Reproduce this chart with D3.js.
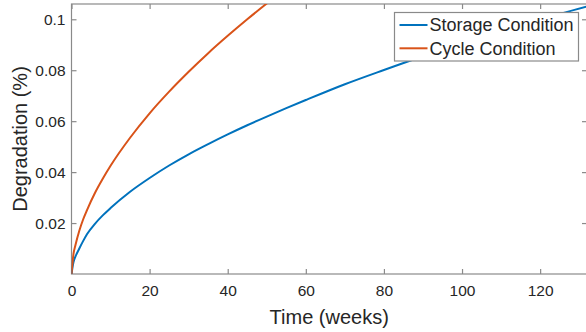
<!DOCTYPE html>
<html>
<head>
<meta charset="utf-8">
<script src="https://cdn.jsdelivr.net/npm/d3@7"></script>
<style>
  body { margin: 0; background: #fff; }
  svg { display: block; font-family: "Liberation Sans", Arial, sans-serif; }
</style>
</head>
<body>
<svg width="586" height="332"></svg>
<script>
// values
const weeks = [0, 0.5, 1, 2, 3, 4, 6, 8, 10, 15, 20, 25, 30, 35, 40, 45, 50, 55, 60, 70, 80, 90, 100, 110, 120, 132];
const storage = [0, 0.0046, 0.0068, 0.0100, 0.0130, 0.0157, 0.0197, 0.0230, 0.0259, 0.0323, 0.0377, 0.0426, 0.0470, 0.0510, 0.0548, 0.0584, 0.0618, 0.0651, 0.0683, 0.0745, 0.0801, 0.0855, 0.0905, 0.0953, 0.0999, 0.1050];
const cycleWeeks = [0, 0.5, 1, 2, 3, 4, 6, 8, 10, 15, 20, 25, 30, 35, 40, 45, 50, 55];
const cycle = [0, 0.0078, 0.0113, 0.0170, 0.0215, 0.0252, 0.0318, 0.0374, 0.0425, 0.0535, 0.0631, 0.0716, 0.0794, 0.0867, 0.0935, 0.1000, 0.1062, 0.1121];
const seriesNames = ['Storage Condition', 'Cycle Condition'];
const xTicks = [0, 20, 40, 60, 80, 100, 120];
const yTicks = [0.02, 0.04, 0.06, 0.08, 0.1];

const colors = ['#0072BD', '#D95319'];
const margin = { top: 4, right: -1, bottom: 58, left: 71.5 };
const W = 586, H = 332;
const width = W - margin.left - margin.right;
const height = H - margin.top - margin.bottom;

const svg = d3.select('svg');
const g = svg.append('g').attr('transform', `translate(${margin.left},${margin.top})`);

const x = d3.scaleLinear().domain([0, 132]).range([0, width]);
const y = d3.scaleLinear().domain([0, 0.106]).range([height, 0]);

g.append('clipPath').attr('id', 'clip')
  .append('rect').attr('width', width).attr('height', height);

// axes (MATLAB style: ticks inward, box on)
const axisColor = '#8a8a8a';
const textColor = '#262626';

g.append('g').attr('transform', `translate(0,${height})`)
  .call(d3.axisBottom(x).tickValues(xTicks).tickSize(-5).tickPadding(11).tickFormat(d3.format('d')));
g.append('g')
  .call(d3.axisTop(x).tickValues(xTicks).tickSize(-5).tickFormat(''));
g.append('g')
  .call(d3.axisLeft(y).tickValues(yTicks).tickSize(-5).tickPadding(6).tickFormat(d => String(+d.toFixed(2))));
g.append('g').attr('transform', `translate(${width},0)`)
  .call(d3.axisRight(y).tickValues(yTicks).tickSize(-5).tickFormat(''));

g.selectAll('.domain').remove();
g.selectAll('.tick line').attr('stroke', axisColor).attr('stroke-width', 1.2);
g.selectAll('.tick text').attr('fill', textColor).style('font-size', '15.5px');

g.append('rect')
  .attr('width', width).attr('height', height)
  .attr('fill', 'none').attr('stroke', axisColor).attr('stroke-width', 1.2);

// curves
const line = d3.line().curve(d3.curveMonotoneX).x(d => x(d[0])).y(d => y(d[1]));
const data = [
  d3.zip(weeks, storage),
  d3.zip(cycleWeeks, cycle)
];
g.append('g').attr('clip-path', 'url(#clip)')
  .selectAll('path')
  .data(data)
  .enter()
  .append('path')
  .attr('d', line)
  .attr('fill', 'none')
  .attr('stroke', (d, i) => colors[i])
  .attr('stroke-width', 2);

// axis labels
svg.append('text')
  .attr('x', margin.left + width / 2)
  .attr('y', 324)
  .attr('text-anchor', 'middle')
  .attr('fill', textColor)
  .style('font-size', '20px')
  .text('Time (weeks)');

svg.append('text')
  .attr('transform', `translate(27,${margin.top + height / 2}) rotate(-90)`)
  .attr('text-anchor', 'middle')
  .attr('fill', textColor)
  .style('font-size', '20px')
  .text('Degradation (%)');

// legend
const legend = svg.append('g').attr('transform', 'translate(394.5,12.5)');
legend.append('rect')
  .attr('width', 184).attr('height', 48.5)
  .attr('fill', '#fff').attr('stroke', axisColor).attr('stroke-width', 1.2);
seriesNames.forEach((name, i) => {
  const ly = 12.5 + i * 23.3;
  legend.append('line')
    .attr('x1', 5).attr('x2', 33).attr('y1', ly).attr('y2', ly)
    .attr('stroke', colors[i]).attr('stroke-width', 2);
  legend.append('text')
    .attr('x', 35).attr('y', ly).attr('dy', '0.35em')
    .attr('fill', textColor)
    .style('font-size', '18px')
    .text(name);
});
</script>
</body>
</html>
